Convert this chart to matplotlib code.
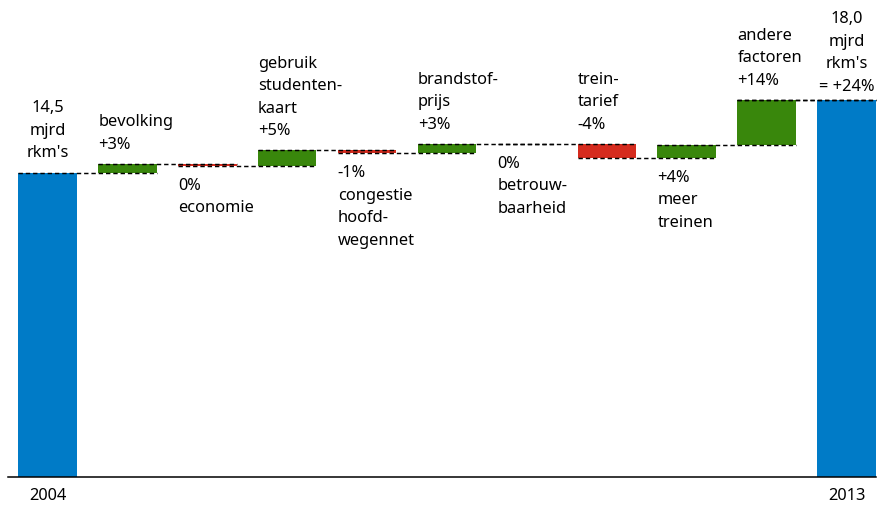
import numpy as np
import matplotlib
matplotlib.use("Agg")
import matplotlib.pyplot as plt

" data: rail passenger kilometres (mjrd rkm) 2004 -> 2013 "
start_value = 14.5
end_value = 18.0
start_label = "14,5\nmjrd\nrkm's"
end_label = "18,0\nmjrd\nrkm's\n= +24%"
year_labels = ["2004", "2013"]

step_labels = ["bevolking\n+3%",
               "0%\neconomie",
               "gebruik\nstudenten-\nkaart\n+5%",
               "-1%\ncongestie\nhoofd-\nwegennet",
               "brandstof-\nprijs\n+3%",
               "0%\nbetrouw-\nbaarheid",
               "trein-\ntarief\n-4%",
               "+4%\nmeer\ntreinen",
               "andere\nfactoren\n+14%"]
step_values = [0.45, -0.1, 0.74, -0.12, 0.43, 0.0, -0.66, 0.62, 2.14]
label_above = [True, False, True, False, True, False, True, False, True]

blue = '#007BC7'
green = '#39870C'
red = '#D52B1E'

plt.rcParams['font.family'] = ['Noto Sans', 'DejaVu Sans']

W, H = 878, 510
fig = plt.figure(figsize=(W / 100, H / 100), dpi=100)
ax = fig.add_axes([0, 0, 1, 1])

# pixel layout
x0_px, dx_px = 47.5, 79.9
base_px, unit_px = 478, 20.95
ax.set_xlim(-x0_px / dx_px, (W - x0_px) / dx_px)
ax.set_ylim(-(H - base_px) / unit_px, base_px / unit_px)
ax.axis('off')

n = len(step_values)
xs = np.arange(n + 2)
width = 0.732

# cumulative levels
levels = start_value + np.cumsum(step_values)
prev = np.concatenate([[start_value], levels[:-1]])

ax.bar(xs[0], start_value, width=width, color=blue, zorder=2)
ax.bar(xs[-1], end_value, width=width, color=blue, zorder=2)
colors = [green if v >= 0 else red for v in step_values]
ax.bar(xs[1:-1], step_values, bottom=prev, width=width, color=colors, zorder=2)

# dashed connectors
all_levels = np.concatenate([[start_value], levels])
dash = (0, (3.0, 2.0))
for i in range(n + 1):
    ax.plot([xs[i] - width / 2, xs[i + 1] + width / 2], [all_levels[i], all_levels[i]],
            color='black', lw=1.05, linestyle=dash, zorder=3)
ax.plot([xs[-2] - width / 2, xs[-1] + width / 2], [end_value, end_value],
        color='black', lw=1.05, linestyle=dash, zorder=3)

# baseline
ax.plot([-(x0_px - 8) / dx_px, (W - 2 - x0_px) / dx_px], [0, 0], color='black', lw=1.1, zorder=3)

fs = 11.8
ls = 1.55
ax.annotate(start_label, (xs[0], start_value), xytext=(0, 13), textcoords='offset pixels',
            ha='center', va='bottom', fontsize=fs, linespacing=ls)
ax.annotate(end_label, (xs[-1], end_value), xytext=(0, 6), textcoords='offset pixels',
            ha='center', va='bottom', fontsize=fs, linespacing=ls)

for i in range(n):
    lo = min(prev[i], levels[i])
    hi = max(prev[i], levels[i])
    xl = xs[i + 1] - width / 2
    if label_above[i]:
        ax.annotate(step_labels[i], (xl, hi), xytext=(0, 12), textcoords='offset pixels',
                    ha='left', va='bottom', fontsize=fs, linespacing=ls)
    else:
        ax.annotate(step_labels[i], (xl, lo), xytext=(0, -11), textcoords='offset pixels',
                    ha='left', va='top', fontsize=fs, linespacing=ls)

for x, lab in zip([xs[0], xs[-1]], year_labels):
    ax.annotate(lab, (x, 0), xytext=(0, -10), textcoords='offset pixels',
                ha='center', va='top', fontsize=fs)

fig.savefig('out.png', dpi=100)
